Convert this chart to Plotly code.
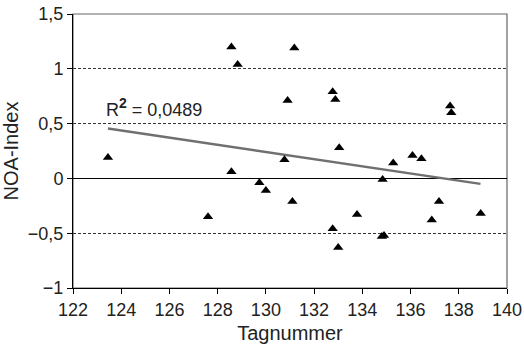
import plotly.graph_objects as go

tag = [123.45, 127.6, 128.57, 128.57, 128.83, 129.73, 130.0, 130.77, 130.9, 131.1,
       131.18, 132.77, 132.88, 132.77, 133.0, 133.04, 133.78, 134.81, 134.9, 134.84,
       135.28, 136.08, 136.45, 136.88, 137.18, 137.64, 137.69, 138.91]
noa = [0.19, -0.35, 1.2, 0.06, 1.04, -0.04, -0.11, 0.17, 0.71, -0.21,
       1.19, 0.79, 0.72, -0.46, -0.63, 0.28, -0.33, -0.53, -0.52, -0.01,
       0.14, 0.21, 0.18, -0.38, -0.21, 0.66, 0.6, -0.32]

trend_x = [123.45, 138.9]
trend_y = [0.455, -0.05]

x_ticks = [122, 124, 126, 128, 130, 132, 134, 136, 138, 140]
y_ticks = [-1, -0.5, 0, 0.5, 1, 1.5]
r2_text = "R<sup><span style='font-size:14px'><b>2</b></span></sup> = 0,0489"

font = "Liberation Sans, Arial, sans-serif"

fig = go.Figure()
fig.add_trace(go.Scatter(x=trend_x, y=trend_y, mode="lines",
                         line=dict(color="#707070", width=2.5), hoverinfo="skip"))
fig.add_trace(go.Scatter(x=tag, y=noa, mode="markers",
                         marker=dict(symbol="triangle-up", size=9, color="black")))

fig.add_annotation(x=123.3, y=0.646, xref="x", yref="y", text=r2_text,
                   showarrow=False, xanchor="left", yanchor="middle",
                   font=dict(size=18, color="#222"))

fig.add_shape(type="rect", xref="paper", yref="paper", x0=0, x1=1, y0=0, y1=1,
              line=dict(color="#666", width=1.2), layer="below")

fig.update_layout(
    width=524, height=347,
    margin=dict(l=73, r=17, t=14, b=59),
    paper_bgcolor="white", plot_bgcolor="white",
    showlegend=False,
    separators=",.",
    font=dict(family=font, size=18, color="#222"),
    xaxis=dict(range=[122, 140], tickvals=x_ticks, ticks="outside", ticklen=5,
               tickcolor="black", showline=True, linecolor="black", linewidth=1,
               showgrid=False, zeroline=False, automargin=False,
               ticklabeloverflow="allow",
               title=dict(text="Tagnummer", font=dict(size=20), standoff=7),
               tickfont=dict(size=18)),
    yaxis=dict(range=[-1, 1.5], tickvals=y_ticks, ticks="outside", ticklen=5,
               tickcolor="black", showline=True, linecolor="black", linewidth=1,
               showgrid=True, gridcolor="#333", gridwidth=1, griddash="3px,2px",
               zeroline=True, zerolinecolor="black", zerolinewidth=1, automargin=False,
               ticklabeloverflow="allow",
               title=dict(text="NOA-Index", font=dict(size=20), standoff=4),
               tickfont=dict(size=18)),
)

# remove the default page margin so the 524x347 figure fills the window exactly
fig.write_html("out.html",
               config={"displayModeBar": False},
               post_script="document.body.style.margin='0';document.body.style.overflow='hidden';")
